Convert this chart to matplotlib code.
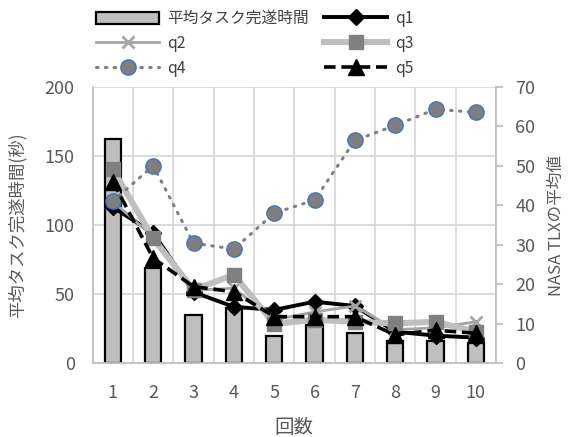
import matplotlib
matplotlib.use("Agg")
import matplotlib.pyplot as plt
from matplotlib.lines import Line2D
from matplotlib.patches import Patch

plt.rcParams['font.family'] = ['Noto Sans CJK JP', 'DejaVu Sans']

# data
rounds = [1, 2, 3, 4, 5, 6, 7, 8, 9, 10]
tick_labels = [str(r) for r in rounds]
avg_time = [162, 69, 35, 40, 20, 28, 22, 16, 16, 15]
q1 = [39.5, 33, 18, 14.3, 13.5, 15.6, 14.5, 8, 7, 6.5]
q2 = [41, 32, 18.5, 19, 11, 13, 14.5, 8.5, 9, 10.5]
q3 = [49.1, 31.6, 18.6, 22.4, 10, 11, 10.5, 10.1, 10.5, 8.0]
q4 = [41, 50, 30.4, 28.9, 38, 41.3, 56.4, 60.2, 64.3, 63.5]
q5 = [46, 26.6, 19.4, 18.1, 11.8, 11.8, 11.8, 7.2, 8.4, 7.6]

W, H = 571, 437
fig = plt.figure(figsize=(W / 100, H / 100), dpi=100)
ax1 = fig.add_axes([92.7 / W, 1 - 363.3 / H, (496 - 92.7) / W, (363.3 - 86.7) / H])
ax2 = ax1.twinx()

grid_c = '#d9d9d9'
axis_c = '#bfbfbf'
text_c = '#595959'

ax1.set_xlim(0.5, 10.5)
ax1.set_ylim(0, 200)
ax2.set_ylim(0, 70)

# grid
for b in range(0, 11):
    ax1.axvline(b + 0.5, color=grid_c, lw=1.3, zorder=0)
for yv in [50, 100, 150, 200]:
    ax1.axhline(yv, color=grid_c, lw=1.3, zorder=0)

ax1.bar(rounds, avg_time, width=0.41, color='#bfbfbf', edgecolor='black',
        linewidth=1.6, zorder=2)

q1_style = dict(color='black', lw=2.8, marker='D', ms=8, mfc='black', mec='black')
q2_style = dict(color='#a5a5a5', lw=2.0, marker='x', ms=9, mew=2, mec='#a5a5a5')
q3_style = dict(color='#bfbfbf', lw=4.4, marker='s', ms=10.5, mfc='#808080', mec='#808080')
q4_style = dict(color='#7f7f7f', lw=2.2, ls=(0, (0.5, 2.4)), dash_capstyle='round',
                marker='o', ms=11, mfc='#7f7f7f', mec='#4472c4', mew=1.0)
q5_style = dict(color='black', lw=2.6, ls=(0, (3.2, 1.6)), marker='^', ms=11,
                mfc='black', mec='black')

ax2.plot(rounds, q1, zorder=3, **q1_style)
ax2.plot(rounds, q2, zorder=3, **q2_style)
ax2.plot(rounds, q3, zorder=3, **q3_style)
ax2.plot(rounds, q4, zorder=3, **q4_style)
ax2.plot(rounds, q5, zorder=3, **q5_style)

ax1.set_xticks(rounds)
ax1.set_xticklabels(tick_labels)
ax1.set_yticks([0, 50, 100, 150, 200])
ax2.set_yticks(range(0, 71, 10))

for ax in (ax1, ax2):
    for s in ax.spines.values():
        s.set_visible(False)
ax1.spines['left'].set_visible(True)
ax1.spines['left'].set_color(axis_c)
ax1.spines['left'].set_linewidth(1.3)
ax1.spines['bottom'].set_visible(True)
ax1.spines['bottom'].set_color(axis_c)
ax1.spines['bottom'].set_linewidth(1.3)
ax2.spines['right'].set_visible(True)
ax2.spines['right'].set_color(axis_c)
ax2.spines['right'].set_linewidth(1.3)

ax1.tick_params(axis='y', length=0, labelsize=13, labelcolor=text_c, pad=13)
ax1.tick_params(axis='x', length=0, labelsize=13, labelcolor=text_c, pad=15)
ax2.tick_params(axis='y', length=5, width=1.3, color=axis_c, labelsize=13,
                labelcolor=text_c, pad=9)

ax1.set_xlabel('回数', fontsize=14, color=text_c, labelpad=11)
ax1.set_ylabel('平均タスク完遂時間(秒)', fontsize=12.5, color=text_c, labelpad=13)
ax2.set_ylabel('NASA TLXの平均値', fontsize=12, color=text_c, labelpad=9)

handles = [
    Patch(facecolor='#bfbfbf', edgecolor='black', linewidth=1.6),
    Line2D([], [], **q2_style),
    Line2D([], [], **q4_style),
    Line2D([], [], **q1_style),
    Line2D([], [], **q3_style),
    Line2D([], [], **q5_style),
]
labels = ['平均タスク完遂時間', 'q2', 'q4', 'q1', 'q3', 'q5']
fig.legend(handles, labels, ncol=2, loc='upper left',
           bbox_to_anchor=(82 / W, 1 + 4 / H), frameon=False,
           fontsize=11.3, handlelength=4.0, handleheight=0.8,
           labelspacing=0.5, columnspacing=1.0, handletextpad=0.5,
           labelcolor='#404040')

fig.savefig('out.png', dpi=100)
